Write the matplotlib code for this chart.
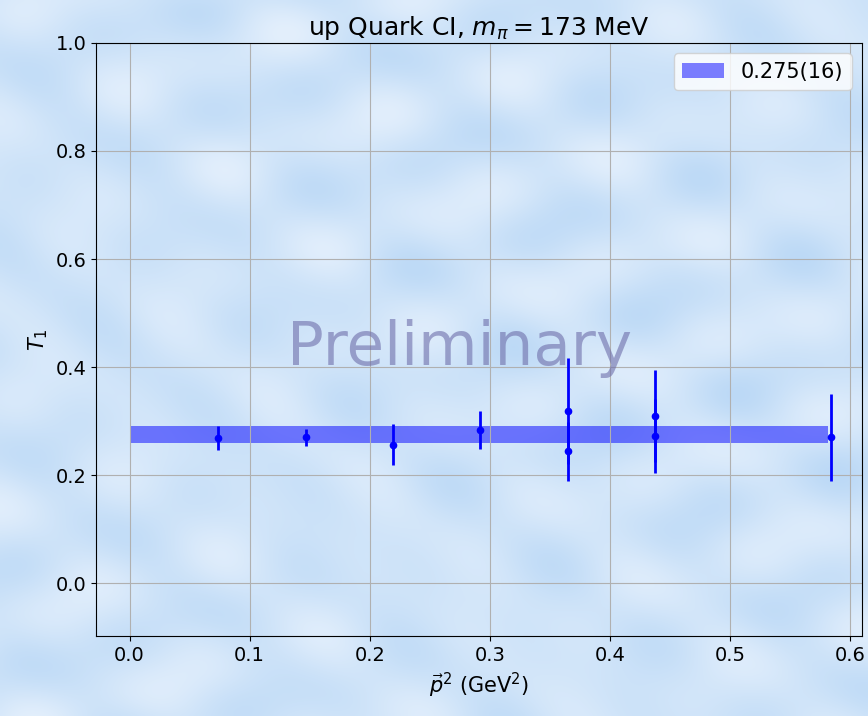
import numpy as np
import matplotlib
matplotlib.use('Agg')
import matplotlib.pyplot as plt

# data
p2 = [0.074, 0.147, 0.219, 0.292, 0.365, 0.365, 0.438, 0.438, 0.584]
t1 = [0.269, 0.270, 0.256, 0.283, 0.319, 0.244, 0.309, 0.272, 0.270]
t1_err = [0.022, 0.016, 0.038, 0.035, 0.098, 0.055, 0.085, 0.068, 0.081]
fit_val = 0.275
fit_err = 0.016
fit_label = '0.275(16)'

fig = plt.figure(figsize=(8.68, 7.16), dpi=100)
fig.patch.set_facecolor('#d4e7fa')

# soft cloudy background
bg = fig.add_axes([0, 0, 1, 1], zorder=-10)
yy, xx = np.mgrid[0:1:300j, 0:1:360j]
tex = (np.sin(xx * 23 + yy * 7) * np.cos(yy * 31 - xx * 5)
       + 0.6 * np.sin(xx * 41 - yy * 17 + 1.3) * np.sin(yy * 29 + 0.7)
       + 0.4 * np.cos(xx * 13 + yy * 43))
bg.imshow(tex, cmap=matplotlib.colors.LinearSegmentedColormap.from_list('sky', ['#bcd9f6', '#e3effc']),
          aspect='auto', extent=[0, 1, 0, 1], interpolation='bicubic')
bg.axis('off')

ax = fig.add_axes([0.1106, 0.1117, 0.8824, 0.8283])
ax.patch.set_alpha(0)

x = np.array(p2)
ax.fill_between([0, x.max() - 0.002], fit_val - fit_err, fit_val + fit_err,
                color='blue', alpha=0.5, linewidth=0, label=fit_label)
ax.errorbar(p2, t1, yerr=t1_err, fmt='o', color='blue', ms=4.5, elinewidth=2, capsize=0)

ax.text(0.475, 0.485, 'Preliminary', transform=ax.transAxes, ha='center', va='center',
        fontsize=44, color='#6e6eaa', alpha=0.6)

ax.set_xlim(-0.028, 0.61)
ax.set_ylim(-0.098, 1.0)
ax.grid(True)
ax.tick_params(labelsize=14)
ax.set_xlabel(r'$\vec{p}^2$ (GeV$^2$)', fontsize=15)
ax.set_ylabel(r'$T_1$', fontsize=15)
ax.set_title(r'up Quark CI, $m_\pi = 173$ MeV', fontsize=18)
ax.legend(loc='upper right', fontsize=15)

plt.savefig('out.png', dpi=100)
